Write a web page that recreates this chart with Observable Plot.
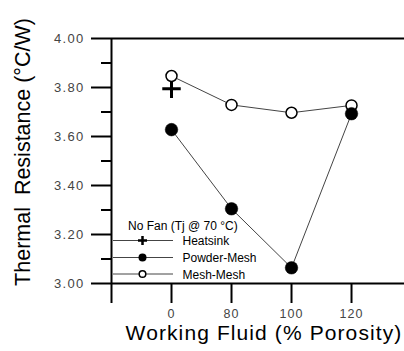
<!DOCTYPE html>
<html><head><meta charset="utf-8">
<script src="https://cdn.jsdelivr.net/npm/d3@7"></script>
<script src="https://cdn.jsdelivr.net/npm/@observablehq/plot@0.6"></script>
<style>body{margin:0;background:#fff}svg{display:block}</style>
</head><body><div id="chart"></div>
<script>
const xLabels = ["0", "80", "100", "120"];
const meshMesh = [3.847, 3.729, 3.697, 3.727];
const powderMesh = [3.628, 3.305, 3.064, 3.693];
const heatsink = [3.795];
const yTicks = [3.0, 3.2, 3.4, 3.6, 3.8, 4.0];
const yMinor = [3.1, 3.3, 3.5, 3.7, 3.9];
const legendTitle = "No Fan (Tj @ 70 °C)";
const seriesNames = ["Heatsink", "Powder-Mesh", "Mesh-Mesh"];
const xTitle = "Working Fluid (% Porosity)";
const yTitle = "Thermal  Resistance (°C/W)";

const toRows = arr => arr.map((v, i) => ({i, v}));
const meshRows = toRows(meshMesh), powderRows = toRows(powderMesh), hsRows = toRows(heatsink);
const xLabelRows = xLabels.map((label, i) => ({i, label}));
const xTickIdx = [-1, ...xLabels.map((d, i) => i)];

const font = "'Liberation Sans', Arial, sans-serif";
const plot = Plot.plot({
  width: 404, height: 351,
  marginLeft: 111, marginRight: 0, marginTop: 38, marginBottom: 68,
  x: {domain: [-1, 3.883], axis: null},
  y: {domain: [3, 4], axis: null},
  style: {background: "white", fontFamily: font},
  marks: [
    Plot.axisY(yTicks, {anchor: "left", tickSize: 20, tickPadding: 7, strokeWidth: 2, fontSize: 13, tickFormat: d => d.toFixed(2), label: null}),
    Plot.axisY(yMinor, {anchor: "left", tickSize: 10, strokeWidth: 2, tickFormat: () => "", label: null}),
    Plot.axisX(xTickIdx, {anchor: "bottom", tickSize: 20, strokeWidth: 2, tickFormat: () => "", label: null}),
    Plot.text(xLabelRows, {x: "i", y: () => 3, text: "label", dy: 30, lineAnchor: "middle", fontSize: 12.5, fill: "#444"}),
    Plot.ruleY([3, 4], {stroke: "black", strokeWidth: 2}),
    Plot.ruleX([-1], {stroke: "black", strokeWidth: 2}),
    Plot.line(meshRows, {x: "i", y: "v", stroke: "#444", strokeWidth: 1}),
    Plot.line(powderRows, {x: "i", y: "v", stroke: "#444", strokeWidth: 1}),
    Plot.dot(hsRows, {x: "i", y: "v", symbol: "plus", r: 6, stroke: "black", strokeWidth: 3}),
    Plot.dot(meshRows, {x: "i", y: "v", r: 5.5, fill: "white", stroke: "black", strokeWidth: 1.5}),
    Plot.dot(powderRows, {x: "i", y: "v", r: 6.3, fill: "black", stroke: "black", strokeWidth: 0.5})
  ]
});
document.getElementById("chart").append(plot);
const svg = d3.select(plot);
svg.selectAll("text").filter(function() { return this.textContent.trim() === ""; }).remove();
svg.selectAll("[aria-label$='tick label'] text").attr("fill", "#444").style("letter-spacing", "1.3px");
svg.selectAll("[aria-label='text'] text").style("letter-spacing", "1px");

// axis titles
svg.append("text").attr("x", 264).attr("y", 339.5).attr("text-anchor", "middle")
  .attr("font-size", 21).attr("font-family", font).attr("fill", "black").style("letter-spacing", "1.1px").text(xTitle);
svg.append("text").attr("transform", "translate(30,152) rotate(-90)").attr("text-anchor", "middle")
  .attr("font-size", 21.5).attr("font-family", font).attr("fill", "black").text(yTitle);

// legend
const lg = svg.append("g").attr("font-family", font).attr("font-size", 12).attr("fill", "black").attr("text-anchor", "start");
lg.append("text").attr("x", 128).attr("y", 230).text(legendTitle);
const rowsY = [240.5, 257.5, 274];
seriesNames.forEach((name, k) => {
  const y = rowsY[k];
  lg.append("line").attr("x1", 113).attr("x2", 173).attr("y1", y).attr("y2", y).attr("stroke", "#444").attr("stroke-width", 1);
  if (k === 0) {
    lg.append("path").attr("d", `M${142.5-4.5},${y}h9M142.5,${y-4.5}v9`).attr("stroke", "black").attr("stroke-width", 2.5);
  } else if (k === 1) {
    lg.append("circle").attr("cx", 142.5).attr("cy", y).attr("r", 4).attr("fill", "black");
  } else {
    lg.append("circle").attr("cx", 142.5).attr("cy", y).attr("r", 3.3).attr("fill", "white").attr("stroke", "black").attr("stroke-width", 1.5);
  }
  lg.append("text").attr("x", 182.5).attr("y", y + 4.5).text(name);
});
</script></body></html>
